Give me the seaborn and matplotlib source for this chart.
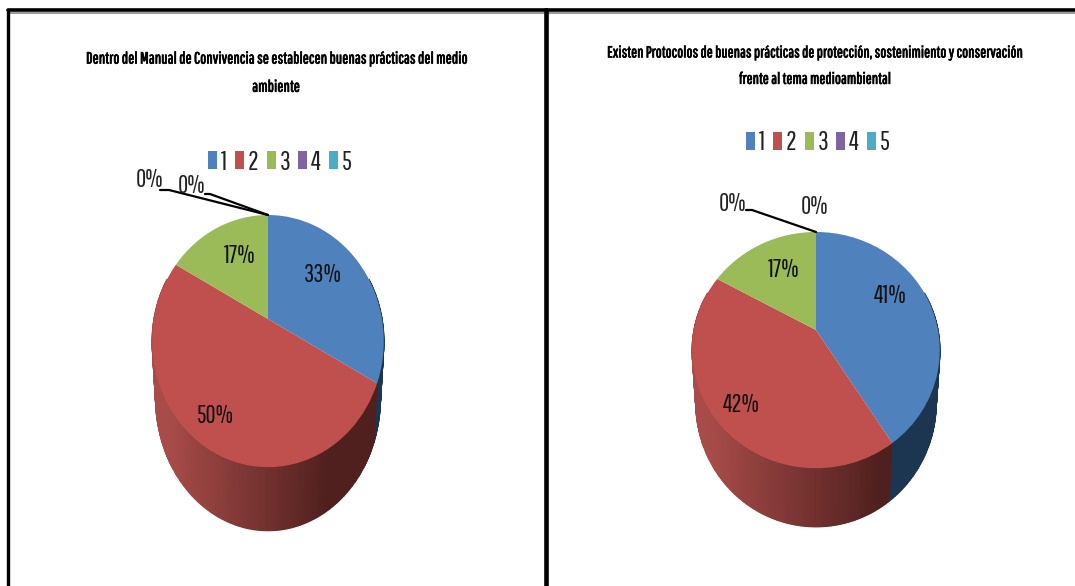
import numpy as np
import matplotlib
matplotlib.use('Agg')
import matplotlib.pyplot as plt
import matplotlib.patheffects as pe
from matplotlib.transforms import Transform
import seaborn as sns

categories = ['1', '2', '3', '4', '5']
colors = ['#4F81BD', '#C0504D', '#9BBB59', '#8064A2', '#4BACC6']

left_title = 'Dentro del Manual de Convivencia se establecen buenas prácticas del medio\nambiente'
left_values = [33, 50, 17, 0, 0]

right_title = ('Existen Protocolos de buenas prácticas de protección, sostenimiento y conservación\n'
               'frente al tema medioambiental')
right_values = [41, 42, 17, 0, 0]

sns.set_theme(style='white')
plt.rcParams['font.family'] = ['Pathway Gothic One', 'Fira Sans Extra Condensed', 'Liberation Sans']


# circulo unitario -> pie en perspectiva (pixeles)
class Persp(Transform):
    input_dims = 2
    output_dims = 2

    def __init__(self, cx, cy, rx, ry, k, shrink=1.0, drop=0.0):
        super().__init__()
        self.p = (cx, cy, rx, ry, k, shrink, drop)

    def transform_non_affine(self, xy):
        cx, cy, rx, ry, k, s, d = self.p
        xy = np.asarray(xy, dtype=float)
        w = 1 + k * xy[:, 1]
        return np.column_stack([cx + s * rx * xy[:, 0] / w,
                                cy - s * ry * xy[:, 1] / w + d / w])


def side_color(i, frac):
    if i == 0:
        return '#1c3550'
    pal = sns.blend_palette(['#a84c49', '#4f201e'], 41)
    return pal[int(np.clip(frac, 0, 1) * 40)]


def ax_w(ax):
    return ax.get_position().width * 1075


def draw_pie(ax, x0, values, title, title_xy, title_size, title_gap, legend_xy, geom, drop, labels_xy, leaders, zero_xy):
    ax.set_axis_off()
    wedges, _ = ax.pie(values, colors=colors, startangle=90, counterclock=False, radius=1,
                       labels=None, wedgeprops={'linewidth': 0, 'zorder': 3})
    ax.set_aspect('auto')
    ax.set_xlim(x0, x0 + ax_w(ax))
    ax.set_ylim(586, 0)

    top = Persp(*geom)
    for w in wedges:
        w.set_transform(top + ax.transData)

    # pared lateral
    bottom = Persp(*geom, shrink=0.97, drop=drop)
    cum = np.cumsum(values) / 100 * 360
    angles = np.arange(70, 291, 1.0)
    for a, b in zip(angles[:-1], angles[1:]):
        th = np.radians([a, b])
        uv = np.column_stack([np.sin(th), np.cos(th)])
        t = top.transform(uv)
        bt = bottom.transform(uv)
        idx = int(np.searchsorted(cum, (a + b) / 2))
        frac = (t[0, 0] - (geom[0] - geom[2] + 10)) / (geom[2] * 1.45)
        ax.fill([t[0, 0], t[1, 0], bt[1, 0], bt[0, 0]], [t[0, 1], t[1, 1], bt[1, 1], bt[0, 1]],
                color=side_color(idx, frac), lw=1.0, zorder=2)

    ax.text(title_xy[0], title_xy[1], title, ha='center', va='center', fontsize=title_size,
            color='black', linespacing=title_gap,
            path_effects=[pe.withStroke(linewidth=0.5, foreground='black')])

    leg = ax.legend(wedges, categories, ncol=5, loc='center', bbox_to_anchor=legend_xy,
                    bbox_transform=ax.transData, frameon=False, fontsize=19, handlelength=0.34,
                    handleheight=0.65, handletextpad=0.15, columnspacing=0.3, borderpad=0)
    for t in leg.get_texts():
        t.set_color('#222222')

    for v, (lx, ly) in zip(values[:3], labels_xy):
        ax.text(lx, ly, f'{v}%', ha='center', va='center', fontsize=18, color='#111111', zorder=5)
    for v, (lx, ly) in zip(values[3:], zero_xy):
        ax.text(lx, ly, f'{v}%', ha='center', va='center', fontsize=18, color='#222222', zorder=5)
    for xs, ys in leaders:
        ax.plot(xs, ys, color='black', lw=1.6, zorder=4)


fig = plt.figure(figsize=(10.75, 5.86), dpi=100)
ax1 = fig.add_axes([0, 0, 546 / 1075, 1])
ax2 = fig.add_axes([546 / 1075, 0, 529 / 1075, 1])

draw_pie(ax1, 0, left_values, left_title, (276, 73), 11.7, 2.1, (280, 162),
         (268, 319, 114, 122.2, 0.175), 56,
         [(323, 275), (215, 416), (240, 256)],
         [([160, 169, 268], [190, 190, 215]), ([205, 210, 268], [194, 194, 215])],
         [(150, 180), (192, 186)])

draw_pie(ax2, 546, right_values, right_title, (815, 66), 11.5, 1.95, (818, 143),
         (816, 330, 122, 114.7, 0.17), 52,
         [(890, 296), (741, 405), (784, 270)],
         [([746, 752, 816], [210, 210, 232])],
         [(733, 204), (815, 207)])

# marco
for ax, xr in ((ax1, (8, 546)), (ax2, (546, 1075))):
    ax.plot(xr, [12.5, 12.5], color='#9a9a9a', lw=1.5, zorder=6, clip_on=False)
    ax.plot(xr, [10, 10], color='black', lw=2.6, zorder=7, clip_on=False)
ax1.plot([8, 8], [10, 586], color='black', lw=2.4, zorder=7)
ax1.plot([545.5, 545.5], [10, 586], color='black', lw=2.6, zorder=7, clip_on=False)
ax2.plot([547, 547], [10, 586], color='black', lw=2.6, zorder=7, clip_on=False)

fig.savefig('out.png', dpi=100)
